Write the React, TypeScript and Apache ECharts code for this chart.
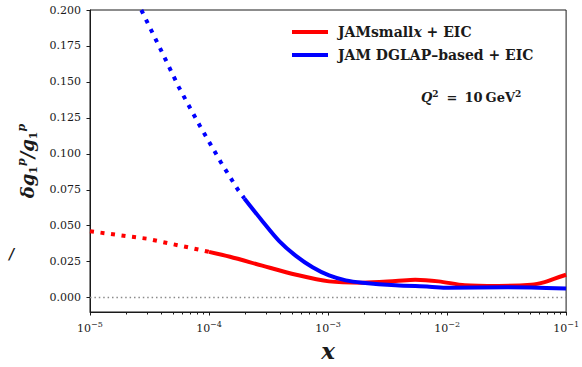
import React, { useEffect, useRef } from "react";
import * as echarts from "echarts";

// ---- data ----
const redName = "JAMsmallx + EIC";
const blueName = "JAM DGLAP–based + EIC";

const redDotted: [number, number][] = [
  [1e-5, 0.0462], [2e-5, 0.0428], [3e-5, 0.041], [5e-5, 0.0371], [7e-5, 0.0346], [1e-4, 0.0318],
];
const redSolid: [number, number][] = [
  [1e-4, 0.0318], [1.5e-4, 0.0284], [2.8e-4, 0.0222], [5.4e-4, 0.0159], [1.02e-3, 0.0113],
  [1.95e-3, 0.0104], [3.7e-3, 0.0115], [5.4e-3, 0.0124], [8.5e-3, 0.0113], [1.41e-2, 0.0086],
  [2.69e-2, 0.0081], [5.1e-2, 0.009], [6.6e-2, 0.0108], [7.9e-2, 0.0131], [0.1, 0.0159],
];
const blueDotted: [number, number][] = [
  [2.7e-5, 0.2], [3.9e-5, 0.173], [5.6e-5, 0.146], [8.3e-5, 0.12], [1.26e-4, 0.094],
  [1.75e-4, 0.075], [1.98e-4, 0.069],
];
const blueSolid: [number, number][] = [
  [1.98e-4, 0.069], [2.82e-4, 0.053], [3.89e-4, 0.0393], [5.37e-4, 0.029], [7.41e-4, 0.0211],
  [1.02e-3, 0.0154], [1.41e-3, 0.012], [1.95e-3, 0.0104], [3.7e-3, 0.0086], [7.1e-3, 0.0076],
  [1.02e-2, 0.0068], [3.2e-2, 0.0072], [5.1e-2, 0.007], [0.1, 0.0063],
];
const zeroLine: [number, number][] = [[1e-5, 0], [1e-1, 0]];

const yTicks = [0, 0.025, 0.05, 0.075, 0.1, 0.125, 0.15, 0.175, 0.2];
const xMajorTicks = [1e-5, 1e-4, 1e-3, 1e-2, 1e-1];
const xMinorMultipliers = [2, 3, 4, 5, 6, 7, 8, 9];
const xMinorTicks: number[] = [];
xMajorTicks.slice(0, -1).forEach((d) =>
  xMinorMultipliers.forEach((k) => xMinorTicks.push(parseFloat((k * d).toPrecision(3))))
);

const SERIF = "DejaVu Serif";
const INK = "#1a1a1a";

export default function App() {
  const ref = useRef<HTMLDivElement>(null);
  useEffect(() => {
    if (!ref.current) return;
    const chart = echarts.init(ref.current, undefined, { renderer: "svg" });
    const supFmt = (v: number) => {
      const e = Math.round(Math.log10(v));
      return "{b|10}{s|" + (e < 0 ? "−" + Math.abs(e) : String(e)) + "}";
    };
    const lineBase = { type: "line", showSymbol: false, symbol: "none", animation: false, silent: true };
    const qBase = { fontFamily: SERIF, fontWeight: "bold", fontSize: 13, fill: INK, verticalAlign: "bottom", lineHeight: 16 };
    chart.setOption({
      animation: false,
      backgroundColor: "#ffffff",
      grid: {
        left: 90, top: 10, right: 14, bottom: 50,
        show: true, borderColor: INK, borderWidth: 1, backgroundColor: "transparent",
      },
      legend: {
        data: [redName, blueName],
        orient: "vertical",
        left: 287, top: 19,
        icon: "rect", itemWidth: 36, itemHeight: 4, itemGap: 7,
        formatter: (n: string) => (n === redName ? "JAMsmall{i|x} + EIC" : n),
        textStyle: {
          fontFamily: SERIF, fontWeight: "bold", fontSize: 14, color: INK, lineHeight: 16,
          padding: [0, 0, 0, 5],
          rich: { i: { fontFamily: SERIF, fontWeight: "bold", fontStyle: "italic", fontSize: 14, color: INK } },
        },
        selectedMode: false,
      },
      xAxis: [
        {
          type: "log", logBase: 10, min: 1e-5, max: 1e-1, position: "bottom",
          name: "x", nameLocation: "middle", nameGap: 27,
          nameTextStyle: { fontFamily: SERIF, fontWeight: "bold", fontStyle: "italic", fontSize: 23, color: INK },
          axisLine: { show: true, onZero: false, lineStyle: { color: INK, width: 1 } },
          axisTick: { show: true, length: 3.5, customValues: xMajorTicks, lineStyle: { color: INK } },
          axisLabel: {
            customValues: xMajorTicks, margin: 8, formatter: supFmt,
            rich: {
              b: { fontFamily: SERIF, fontSize: 11, color: INK, verticalAlign: "bottom", lineHeight: 14 },
              s: { fontFamily: SERIF, fontSize: 8, color: INK, verticalAlign: "bottom", padding: [0, 0, 6, 0], lineHeight: 10 },
            },
          },
          splitLine: { show: false },
          minorTick: { show: false },
        },
        {
          type: "log", logBase: 10, min: 1e-5, max: 1e-1, position: "bottom", offset: 0,
          axisLine: { show: false, onZero: false },
          axisTick: { show: true, length: 2.5, customValues: xMinorTicks, lineStyle: { color: INK } },
          axisLabel: { show: false },
          splitLine: { show: false },
        },
      ],
      yAxis: {
        type: "value", min: -0.01, max: 0.2,
        name: "{a|δg}{sub|1}{sup|p}{a|/g}{sub|1}{sup|p}",
        nameLocation: "middle", nameGap: 44, nameRotate: 90,
        nameTextStyle: {
          rich: {
            a: { fontFamily: SERIF, fontWeight: "bold", fontStyle: "italic", fontSize: 18, color: INK, verticalAlign: "bottom", lineHeight: 22 },
            sub: { fontFamily: SERIF, fontWeight: "bold", fontSize: 11, color: INK, verticalAlign: "bottom", padding: [0, 0, -2, 0], lineHeight: 14 },
            sup: { fontFamily: SERIF, fontWeight: "bold", fontStyle: "italic", fontSize: 11, color: INK, verticalAlign: "bottom", padding: [0, 0, 10, 0], lineHeight: 14 },
          },
        },
        axisLine: { show: true, onZero: false, lineStyle: { color: INK, width: 1 } },
        axisTick: { show: true, length: 3.5, customValues: yTicks, lineStyle: { color: INK } },
        axisLabel: {
          customValues: yTicks, margin: 9,
          formatter: (v: number) => v.toFixed(3),
          fontFamily: SERIF, fontSize: 11, color: INK,
        },
        splitLine: { show: false },
      },
      graphic: [
        {
          type: "text", left: 421, top: 89,
          style: {
            text: "{q|Q}{s|2}{e|=}{n|10}{g|GeV}{s|2}",
            rich: {
              q: { ...qBase, fontStyle: "italic" },
              e: { ...qBase, padding: [0, 7, 0, 8] },
              n: { ...qBase },
              g: { ...qBase, padding: [0, 0, 0, 3] },
              s: { ...qBase, fontSize: 9, padding: [0, 0, 6, 0], lineHeight: 10 },
            },
          },
        },
        {
          type: "text", left: 9, top: 247,
          style: { text: "/", fontFamily: SERIF, fontWeight: "bold", fontStyle: "italic", fontSize: 14, fill: INK },
        },
      ],
      series: [
        {
          ...lineBase, name: "zero", data: zeroLine, z: 1,
          lineStyle: { color: "#8a8a8a", width: 1.5, type: [1.5, 2.9], cap: "butt" },
        },
        {
          ...lineBase, name: "redDotted", data: redDotted, z: 2,
          lineStyle: { color: "#ff0000", width: 4, type: [4, 6.6], cap: "butt" },
        },
        {
          ...lineBase, name: redName, data: redSolid, smooth: 0.3, z: 2,
          itemStyle: { color: "#ff0000" },
          lineStyle: { color: "#ff0000", width: 4 },
        },
        {
          ...lineBase, name: "blueDotted", data: blueDotted, z: 3,
          lineStyle: { color: "#0000ff", width: 4, type: [4, 6.6], cap: "butt" },
        },
        {
          ...lineBase, name: blueName, data: blueSolid, smooth: 0.3, z: 3,
          itemStyle: { color: "#0000ff" },
          lineStyle: { color: "#0000ff", width: 4 },
        },
      ],
    });
    return () => chart.dispose();
  }, []);
  return (
    <div
      ref={ref}
      style={{ position: "fixed", left: 0, top: 0, width: 582, height: 367, background: "#fff" }}
    />
  );
}
